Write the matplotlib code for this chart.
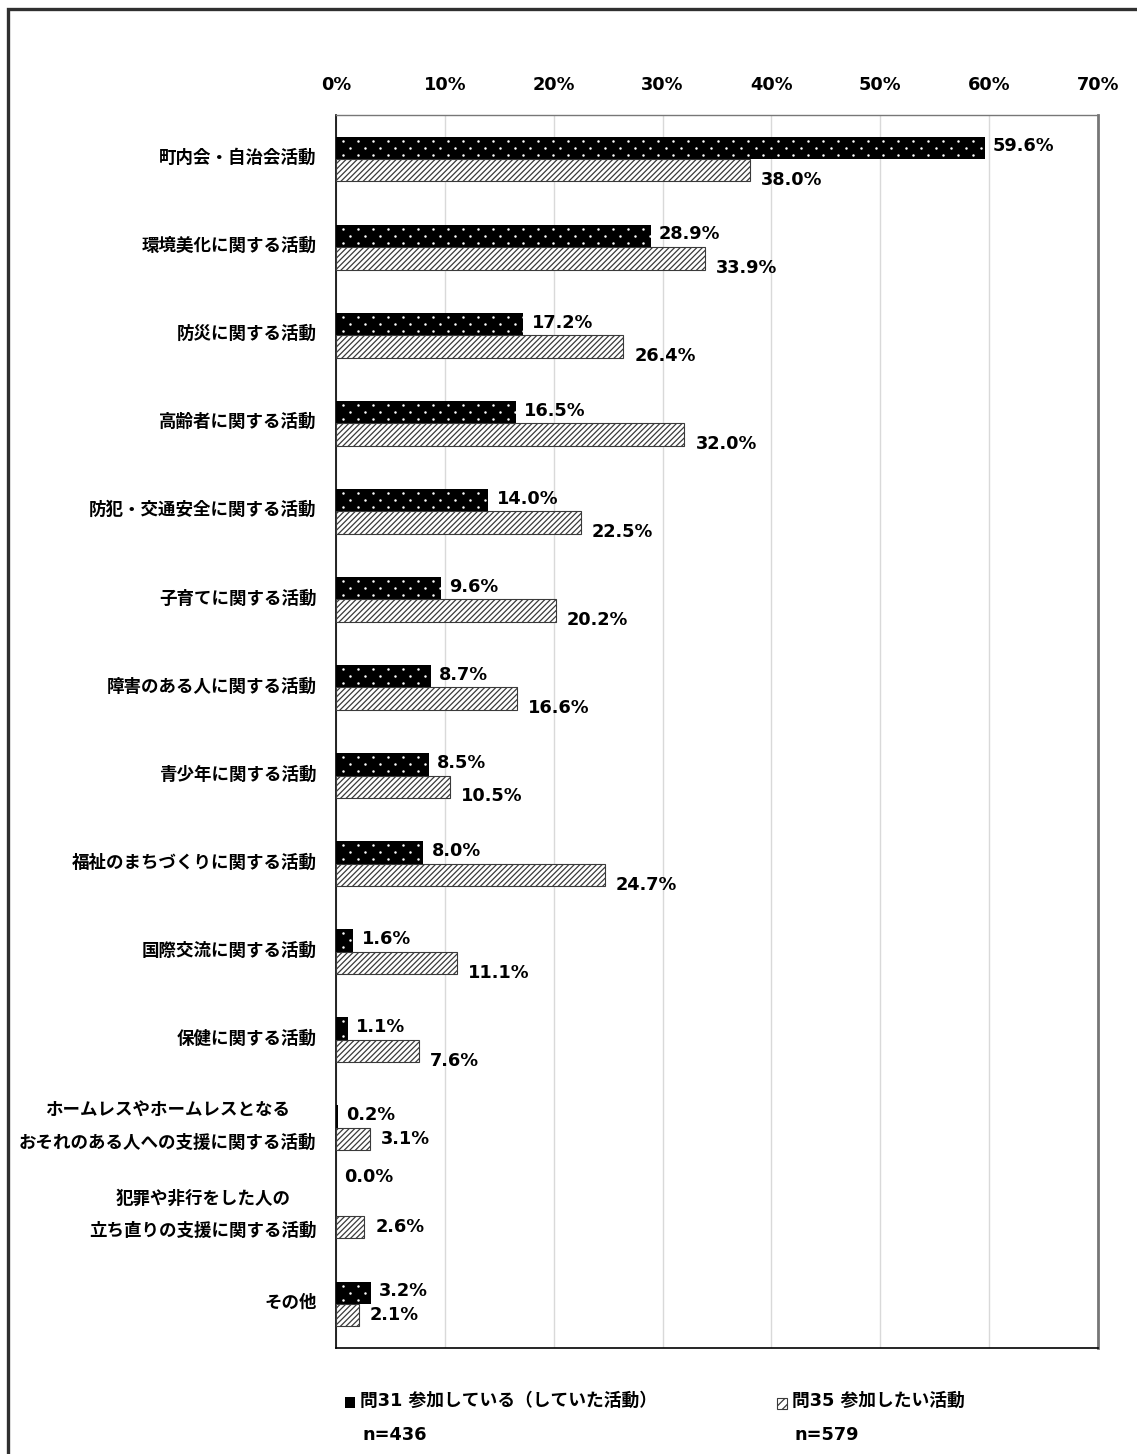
import numpy as np
import matplotlib
matplotlib.use("Agg")
import matplotlib.pyplot as plt
import matplotlib.transforms as mtrans
from matplotlib.patches import Rectangle

plt.rcParams['font.family'] = ['DejaVu Sans', 'Noto Sans CJK JP']
plt.rcParams['font.weight'] = 'bold'
plt.rcParams['hatch.linewidth'] = 0.9

categories = [
    '町内会・自治会活動',
    '環境美化に関する活動',
    '防災に関する活動',
    '高齢者に関する活動',
    '防犯・交通安全に関する活動',
    '子育てに関する活動',
    '障害のある人に関する活動',
    '青少年に関する活動',
    '福祉のまちづくりに関する活動',
    '国際交流に関する活動',
    '保健に関する活動',
    'ホームレスやホームレスとなる\nおそれのある人への支援に関する活動',
    '犯罪や非行をした人の\n立ち直りの支援に関する活動',
    'その他',
]
q31 = [59.6, 28.9, 17.2, 16.5, 14.0, 9.6, 8.7, 8.5, 8.0, 1.6, 1.1, 0.2, 0.0, 3.2]
q35 = [38.0, 33.9, 26.4, 32.0, 22.5, 20.2, 16.6, 10.5, 24.7, 11.1, 7.6, 3.1, 2.6, 2.1]
x_ticks = [0, 10, 20, 30, 40, 50, 60, 70]
legend_names = ['問31 参加している（していた活動）', '問35 参加したい活動']
legend_n = ['n=436', 'n=579']

# label vertical offsets (points) - reference moved some labels by hand
q31_dy = [1] * 12 + [20, 1]
q35_dy = [-7] * 11 + [0, 0, 0]

FS = 12.8
fig = plt.figure(figsize=(11.37, 14.54), dpi=100)
ax = fig.add_axes([336 / 1137, 1 - 1348 / 1454, 762 / 1137, 1233 / 1454])

y = np.arange(len(categories))
h = 0.255
bars31 = ax.barh(y - h / 2, q31, height=h, color='black', linewidth=0, zorder=3)
ax.barh(y + h / 2, q35, height=h, color='white', edgecolor='#3a3a3a',
        hatch='//////', linewidth=0.8, zorder=3)

# white dot texture on the black bars (staggered rows)
dx = 1.38
for bar, v in zip(bars31, q31):
    if v <= 0:
        continue
    yc = bar.get_y() + bar.get_height() / 2
    for k, off in enumerate([-0.08, 0.0, 0.08]):
        xs = np.arange(0.6 + (dx / 2 if k == 1 else 0), v, dx)
        sc = ax.scatter(xs, np.full(len(xs), yc + off), s=3.2, c='white',
                        linewidths=0, zorder=4)
        sc.set_clip_path(bar)

for i in range(len(categories)):
    ax.annotate(f'{q31[i]:.1f}%', (q31[i], y[i] - h / 2), xytext=(6, q31_dy[i]),
                textcoords='offset points', va='center', ha='left',
                fontsize=FS, fontweight='bold')
    ax.annotate(f'{q35[i]:.1f}%', (q35[i], y[i] + h / 2), xytext=(8, q35_dy[i]),
                textcoords='offset points', va='center', ha='left',
                fontsize=FS, fontweight='bold')

ax.set_xlim(0, 70)
ax.set_ylim(len(categories) - 0.5, -0.5)
ax.xaxis.tick_top()
ax.set_xticks(x_ticks)
ax.set_xticklabels([f'{t}%' for t in x_ticks], fontsize=FS, fontweight='bold')
ax.tick_params(axis='x', length=0, pad=15)
ax.set_yticks(y)
ax.set_yticklabels(categories, fontsize=12.6, fontweight='bold',
                   multialignment='center', linespacing=2.0)
ax.tick_params(axis='y', length=0, pad=14)
for lab in ax.get_yticklabels():
    up = 10 if '\n' in lab.get_text() else 3
    lab.set_transform(lab.get_transform() +
                      mtrans.ScaledTranslation(0, up / 100, fig.dpi_scale_trans))
ax.grid(axis='x', color='#d9d9d9', linewidth=1, zorder=0)
ax.set_axisbelow(True)

ax.spines['left'].set_color('black')
ax.spines['left'].set_linewidth(1.2)
ax.spines['bottom'].set_color('black')
ax.spines['bottom'].set_linewidth(1.2)
ax.spines['top'].set_color('#777777')
ax.spines['top'].set_linewidth(1)
ax.spines['right'].set_color('#777777')
ax.spines['right'].set_linewidth(2)

# outer frame (cut off at right and bottom in the reference)
fig.add_artist(Rectangle((8 / 1137, -0.1), 1.2, 1 - 9 / 1454 + 0.1,
                         transform=fig.transFigure, fill=False,
                         edgecolor='#303030', linewidth=2.4))

# legend
W, H = 1137, 1454
fig.add_artist(Rectangle((345 / W, 1 - 1408 / H), 10 / W, 11 / H,
                         transform=fig.transFigure, facecolor='black',
                         linewidth=0))
fig.add_artist(Rectangle((777 / W, 1 - 1409 / H), 10 / W, 11 / H,
                         transform=fig.transFigure, facecolor='white',
                         edgecolor='#3a3a3a', hatch='////', linewidth=0.8))
fig.text(360 / W, 1 - 1401 / H, legend_names[0], fontsize=FS,
         fontweight='bold', va='center')
fig.text(792 / W, 1 - 1401 / H, legend_names[1], fontsize=FS,
         fontweight='bold', va='center')
fig.text(362 / W, 1 - 1435 / H, legend_n[0], fontsize=FS,
         fontweight='bold', va='center')
fig.text(794 / W, 1 - 1435 / H, legend_n[1], fontsize=FS,
         fontweight='bold', va='center')

fig.savefig('out.png', dpi=100)
